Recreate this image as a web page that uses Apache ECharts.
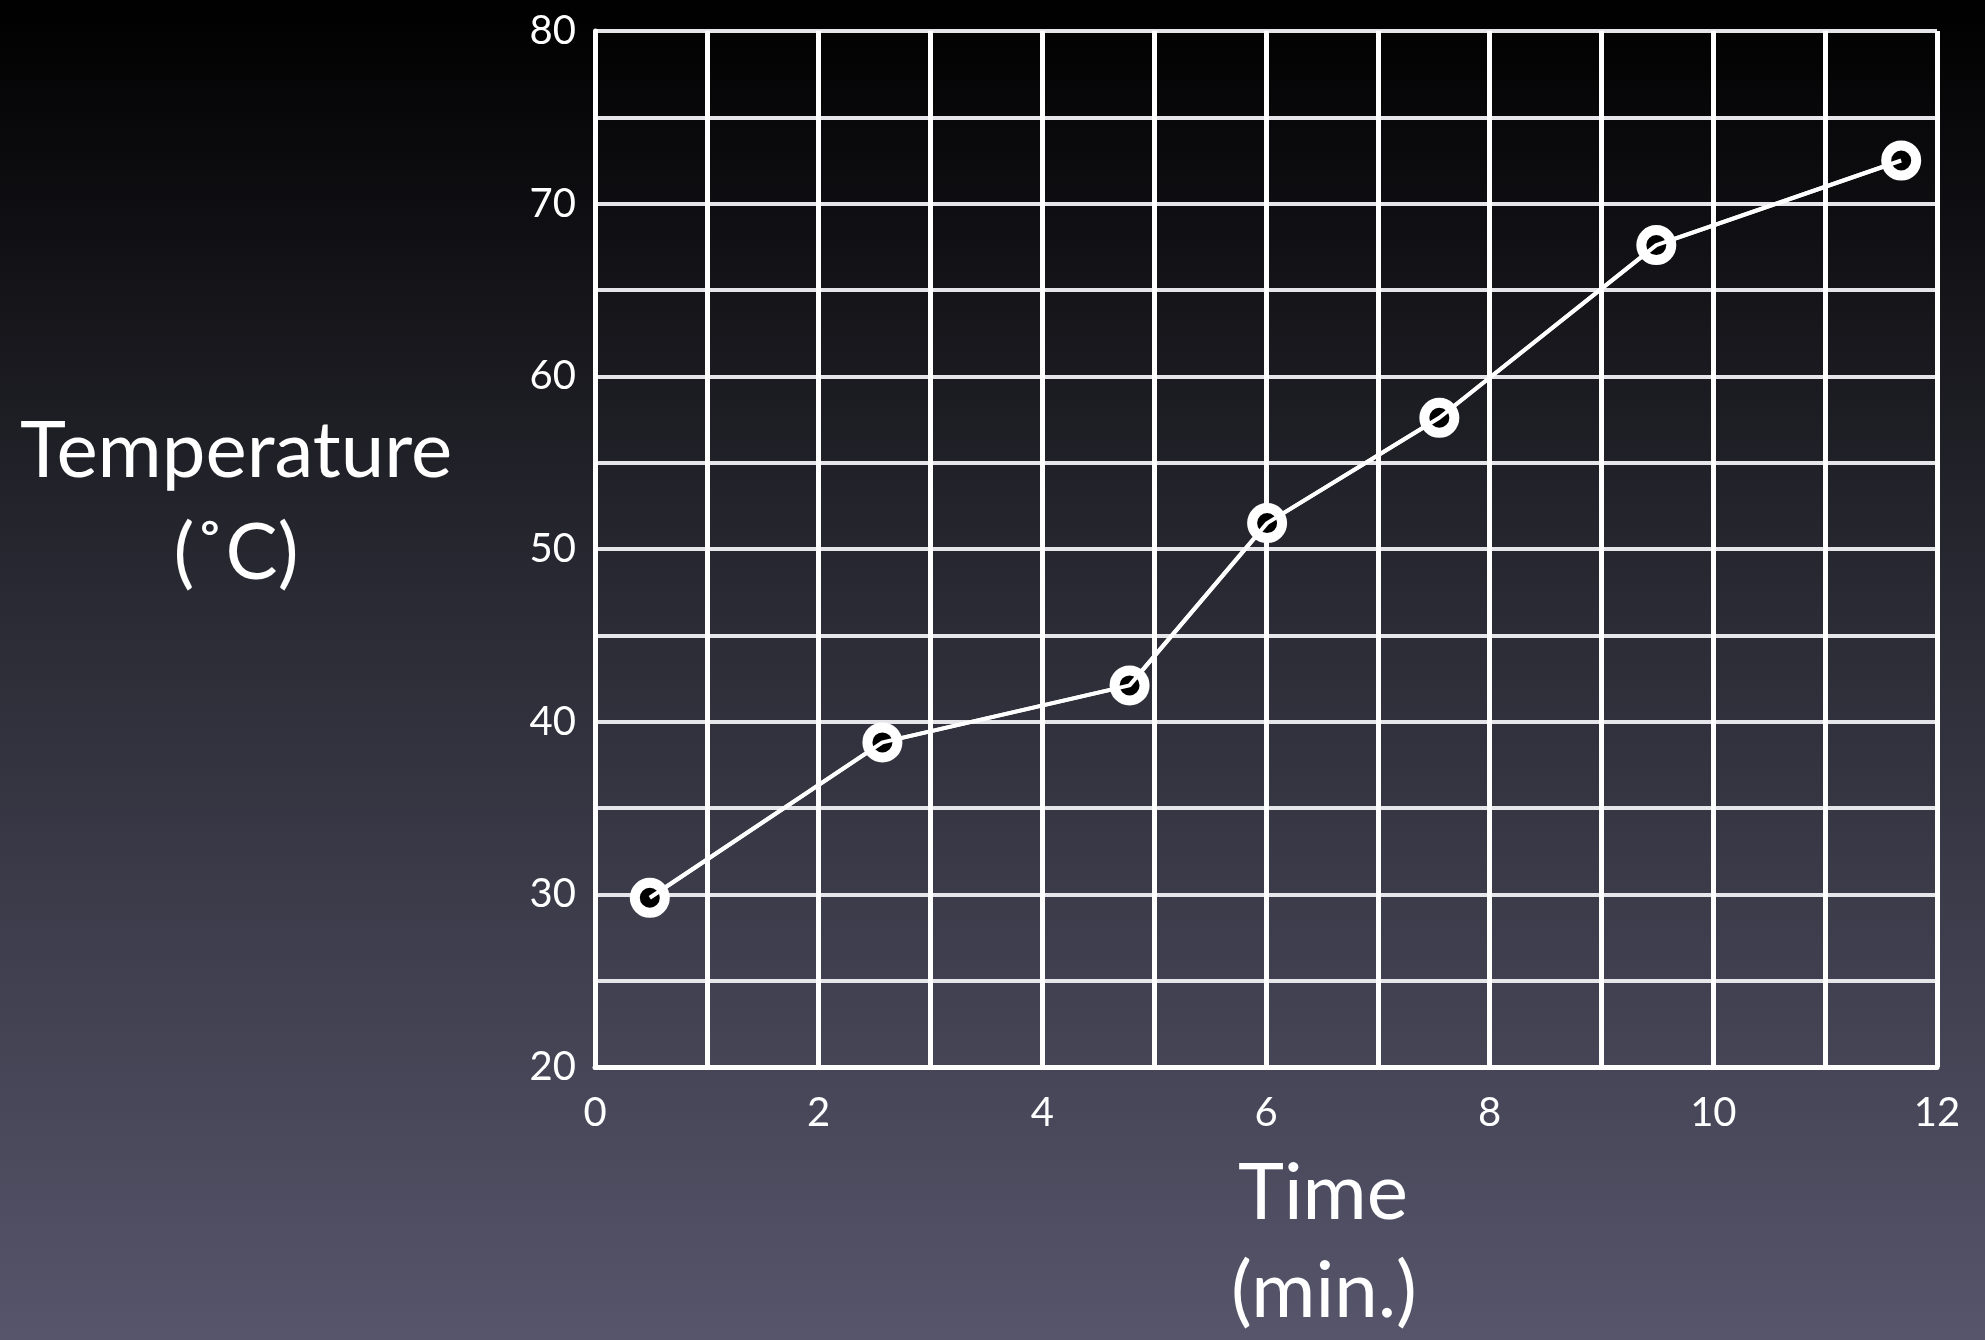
<!DOCTYPE html>
<html>
<head>
<meta charset="utf-8">
<script src="https://cdn.jsdelivr.net/npm/echarts@6/dist/echarts.min.js"></script>
<style>
html,body{margin:0;padding:0;background:#000;}
#chart{width:1985px;height:1340px;}
</style>
</head>
<body>
<div id="chart"></div>
<script>
const timeValues = [0.49, 2.57, 4.78, 6.01, 7.55, 9.49, 11.68];
const tempValues = [29.8, 38.8, 42.1, 51.5, 57.6, 67.6, 72.5];
const yTitleLines = ['Temperature', '(˚C)'];
const xTitleLines = ['Time', '(min.)'];

const points = timeValues.map((t, i) => [t, tempValues[i]]);
const FONT = 'Lato, "Open Sans", sans-serif';

const chart = echarts.init(document.getElementById('chart'));
chart.setOption({
  backgroundColor: {
    type: 'linear', x: 0, y: 0, x2: 0, y2: 1,
    colorStops: [
      { offset: 0, color: '#000000' },
      { offset: 0.45, color: '#2a2a34' },
      { offset: 1, color: '#56556b' }
    ]
  },
  animation: false,
  grid: { left: 595, right: 48, top: 31, bottom: 273, containLabel: false },
  xAxis: {
    type: 'value', min: 0, max: 12, interval: 1,
    axisLine: { show: true, lineStyle: { color: '#ffffff', width: 5 } },
    axisTick: { show: false },
    splitLine: { show: true, lineStyle: { color: '#ffffff', width: 5 } },
    axisLabel: {
      color: '#ffffff', fontFamily: FONT, fontSize: 40, margin: 26,
      formatter: v => (v % 2 === 0 ? String(v) : '')
    }
  },
  yAxis: {
    type: 'value', min: 20, max: 80, interval: 5,
    axisLine: { show: true, lineStyle: { color: '#ffffff', width: 5 } },
    axisTick: { show: false },
    splitLine: { show: true, lineStyle: { color: '#e6e6ea', width: 4 } },
    axisLabel: {
      color: '#ffffff', fontFamily: FONT, fontSize: 40, margin: 19,
      formatter: v => (v % 10 === 0 ? String(v) : '')
    }
  },
  graphic: [
    { type: 'text', left: null, x: 236, y: 452, style: { text: yTitleLines[0], fill: '#ffffff', font: '78px ' + FONT, textAlign: 'center', textVerticalAlign: 'middle' } },
    { type: 'text', x: 236, y: 554, style: { text: yTitleLines[1], fill: '#ffffff', font: '78px ' + FONT, textAlign: 'center', textVerticalAlign: 'middle' } },
    { type: 'text', x: 1323, y: 1194, style: { text: xTitleLines[0], fill: '#ffffff', font: '78px ' + FONT, textAlign: 'center', textVerticalAlign: 'middle' } },
    { type: 'text', x: 1324, y: 1292, style: { text: xTitleLines[1], fill: '#ffffff', font: '78px ' + FONT, textAlign: 'center', textVerticalAlign: 'middle' } }
  ],
  series: [
    {
      type: 'line', data: points, z: 3,
      symbol: 'circle', symbolSize: 30,
      itemStyle: { color: '#000000', borderColor: '#ffffff', borderWidth: 10 },
      lineStyle: { color: '#ffffff', width: 4 }
    },
    {
      type: 'line', data: points, z: 4, showSymbol: false, symbol: 'none',
      lineStyle: { color: '#ffffff', width: 4 }
    }
  ]
});
</script>
</body>
</html>
